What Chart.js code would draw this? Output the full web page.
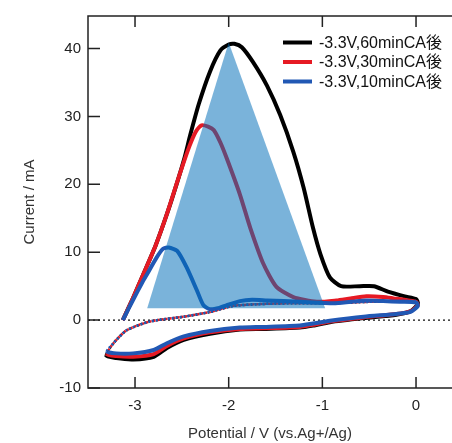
<!DOCTYPE html>
<html>
<head>
<meta charset="utf-8">
<script src="https://cdn.jsdelivr.net/npm/chart.js@4.4.0/dist/chart.umd.min.js"></script>
<style>
  html, body { margin: 0; padding: 0; background: #fff; }
</style>
</head>
<body>
<canvas id="myChart" width="452" height="443"></canvas>
<script>
// legend labels and axis ticks
var legend_labels = ['-3.3V,60minCA後', '-3.3V,30minCA後', '-3.3V,10minCA後']
var x_ticks = [-3, -2, -1, 0]
var y_ticks = [-10, 0, 10, 20, 30, 40]

// -3.3V, 60 min (potential V / current mA)
var pot_60 = [-3.13, -3.02, -2.91, -2.78, -2.66, -2.55, -2.47, -2.41, -2.32, -2.2, -2.09, -2.0, -1.94, -1.86, -1.74, -1.59, -1.45, -1.31, -1.2, -1.1, -1.02, -0.92, -0.8, -0.6, -0.45, -0.3, -0.12, 0.0,
  0.02, -0.06, -0.21, -0.56, -0.92, -1.1, -1.24, -1.63, -1.88, -2.2, -2.48, -2.66, -2.8, -3.02, -3.2, -3.31,
  -3.23, -3.09, -2.84, -2.48, -2.2, -1.95, -1.6, -1.24, -0.9, -0.5, -0.2, 0.0]
var cur_60 = [0, 3.3, 6.8, 11, 15.6, 20.3, 24.0, 27.3, 31.8, 36.6, 39.7, 40.6, 40.7, 40.2, 38, 34.5, 30.2, 24.8, 19.5, 13.6, 9.7, 6.3, 5.0, 5.0, 5.0, 4.2, 3.5, 3.1,
  2.4, 1.3, 0.8, 0.3, -0.3, -0.8, -1.1, -1.3, -1.4, -2.0, -2.9, -4.1, -5.4, -5.8, -5.6, -5.2,
  -3.4, -1.5, -0.2, 0.5, 1.2, 2.1, 2.4, 2.5, 2.5, 2.7, 2.8, 2.8]

// -3.3V, 30 min
var pot_30 = [-3.13, -3.02, -2.91, -2.78, -2.66, -2.52, -2.42, -2.35, -2.29, -2.22, -2.16, -2.09, -2.02, -1.88, -1.77, -1.63, -1.49, -1.31, -1.06, -0.85, -0.7, -0.53, -0.35, -0.24, -0.08, 0.0,
  0.02, -0.06, -0.21, -0.56, -0.92, -1.1, -1.24, -1.63, -1.88, -2.2, -2.48, -2.66, -2.8, -3.02, -3.2, -3.3,
  -3.23, -3.09, -2.84, -2.48, -2.2, -1.95, -1.6, -1.24, -0.9, -0.5, -0.2, 0.0]
var cur_30 = [0, 3.3, 6.8, 11, 15.6, 21.6, 25.6, 27.8, 28.7, 28.5, 28.0, 26.2, 23.8, 18.5, 13.6, 8.3, 4.9, 3.4, 2.7, 2.9, 3.2, 3.5, 3.4, 3.2, 2.9, 2.7,
  2.2, 1.3, 0.9, 0.4, -0.2, -0.7, -1.0, -1.2, -1.3, -1.8, -2.7, -3.8, -5.0, -5.4, -5.3, -5.0,
  -3.4, -1.5, -0.2, 0.5, 1.2, 2.1, 2.4, 2.5, 2.5, 2.7, 2.8, 2.8]

// -3.3V, 10 min
var pot_10 = [-3.13, -3.02, -2.92, -2.87, -2.77, -2.7, -2.64, -2.55, -2.45, -2.34, -2.27, -2.2, -2.1, -2.02, -1.88, -1.75, -1.59, -1.24, -0.88, -0.7, -0.53, -0.35, -0.17, 0.0,
  0.02, -0.06, -0.21, -0.56, -0.92, -1.1, -1.24, -1.63, -1.88, -2.2, -2.48, -2.66, -2.8, -3.02, -3.2, -3.3,
  -3.23, -3.09, -2.84, -2.48, -2.2, -1.95, -1.6, -1.24, -0.9, -0.5, -0.2, 0.0]
var cur_10 = [0, 3.0, 5.6, 6.8, 9.2, 10.5, 10.7, 10.2, 7.8, 4.4, 2.2, 1.6, 1.8, 2.2, 2.8, 3.0, 2.9, 2.7, 2.5, 2.7, 2.9, 2.8, 2.7, 2.6,
  2.1, 1.2, 0.9, 0.5, -0.1, -0.5, -0.8, -1.0, -1.1, -1.6, -2.4, -3.4, -4.4, -4.9, -4.9, -4.6,
  -3.4, -1.5, -0.2, 0.5, 1.2, 2.1, 2.4, 2.5, 2.5, 2.7, 2.8, 2.8]

// shaded triangle
var tri_pot = [-2.87, -2.0, -0.97, -2.87]
var tri_cur = [1.75, 40.9, 1.75, 1.75]

var font_family = '"Liberation Sans", Arial, "Noto Sans CJK JP", sans-serif'

function to_points(xs, ys) {
    return xs.map(function (x, i) { return {x: x, y: ys[i]} })
}

// index where the sweep turns back at the negative end -> dotted part after it
function turn_index(xs) {
    var k = 0
    for (let i = 0; i < xs.length; i++) {
        if (xs[i] < xs[k]) k = i
    }
    return k
}

function cv_dataset(label, xs, ys, color, order) {
    var turn = turn_index(xs)
    return {
        label: label,
        data: to_points(xs, ys),
        showLine: true,
        borderColor: color,
        borderWidth: 4,
        pointRadius: 0,
        tension: 0.22,
        order: order,
        segment: {
            borderDash: function (c) { return c.p0DataIndex >= turn ? [2, 2] : undefined },
            borderWidth: function (c) { return c.p0DataIndex >= turn ? 2.5 : undefined }
        }
    }
}

var frame_plugin = {
    id: 'frame',
    beforeDatasetsDraw: function (chart) {
        var ctx = chart.ctx, a = chart.chartArea
        var y0 = chart.scales.y.getPixelForValue(0)
        ctx.save()
        ctx.strokeStyle = '#111'
        ctx.lineWidth = 1.3
        ctx.setLineDash([2, 3])
        ctx.beginPath()
        ctx.moveTo(a.left, y0)
        ctx.lineTo(a.right, y0)
        ctx.stroke()
        ctx.restore()
    },
    afterDraw: function (chart) {
        var ctx = chart.ctx, a = chart.chartArea
        var xs = chart.scales.x, ys = chart.scales.y
        ctx.save()
        ctx.strokeStyle = '#222'
        ctx.lineWidth = 1.5
        ctx.beginPath()
        ctx.moveTo(a.right, a.top)
        ctx.lineTo(a.left, a.top)
        ctx.lineTo(a.left, a.bottom)
        ctx.lineTo(a.right, a.bottom)
        ctx.stroke()
        // inward ticks
        ctx.beginPath()
        x_ticks.forEach(function (v) {
            var px = xs.getPixelForValue(v)
            ctx.moveTo(px, a.top); ctx.lineTo(px, a.top + 11)
            ctx.moveTo(px, a.bottom); ctx.lineTo(px, a.bottom - 11)
        })
        y_ticks.forEach(function (v) {
            var py = ys.getPixelForValue(v)
            ctx.moveTo(a.left, py); ctx.lineTo(a.left + 12, py)
        })
        ctx.stroke()

        // legend
        ctx.font = '16px ' + font_family
        ctx.textBaseline = 'middle'
        ctx.fillStyle = '#111'
        for (let i = 0; i < 3; i++) {
            var ds = chart.data.datasets[i]
            var ly = 42.5 + i * 19.5
            ctx.strokeStyle = ds.borderColor
            ctx.lineWidth = 4
            ctx.beginPath()
            ctx.moveTo(283, ly)
            ctx.lineTo(312, ly)
            ctx.stroke()
            ctx.fillText(ds.label, 319, ly + 1)
        }
        ctx.restore()
    }
}

new Chart(document.getElementById('myChart'), {
    type: 'scatter',
    data: {
        datasets: [
            cv_dataset(legend_labels[0], pot_60, cur_60, '#000000', 3),
            cv_dataset(legend_labels[1], pot_30, cur_30, '#e61a24', 2),
            cv_dataset(legend_labels[2], pot_10, cur_10, '#2158b4', 1),
            {
                label: 'area',
                data: to_points(tri_pot, tri_cur),
                showLine: true,
                borderWidth: 0,
                pointRadius: 0,
                fill: 'shape',
                backgroundColor: 'rgba(0, 110, 185, 0.52)',
                order: 0
            }
        ]
    },
    options: {
        responsive: false,
        animation: false,
        layout: { padding: { top: 13, right: 0, left: 0, bottom: 0 } },
        plugins: { legend: { display: false }, tooltip: { enabled: false } },
        scales: {
            x: {
                type: 'linear',
                min: -3.502,
                max: 0.384,
                afterBuildTicks: function (s) { s.ticks = x_ticks.map(function (v) { return {value: v} }) },
                afterFit: function (s) { s.height = 55 },
                grid: { display: false, tickLength: 0 },
                border: { display: false },
                ticks: { font: { size: 15, family: font_family }, color: '#222', padding: 9 },
                title: { display: true, text: 'Potential / V (vs.Ag+/Ag)', font: { size: 15, family: font_family }, color: '#333', padding: { top: 0, bottom: 0 } }
            },
            y: {
                min: -10,
                max: 44.8,
                afterBuildTicks: function (s) { s.ticks = y_ticks.map(function (v) { return {value: v} }) },
                afterFit: function (s) { s.width = 88 },
                grid: { display: false, tickLength: 0 },
                border: { display: false },
                ticks: { font: { size: 15, family: font_family }, color: '#222', padding: 7 },
                title: { display: true, text: 'Current / mA', font: { size: 15, family: font_family }, color: '#333', padding: { top: 21, bottom: 0 } }
            }
        }
    },
    plugins: [frame_plugin]
})
</script>
</body>
</html>
